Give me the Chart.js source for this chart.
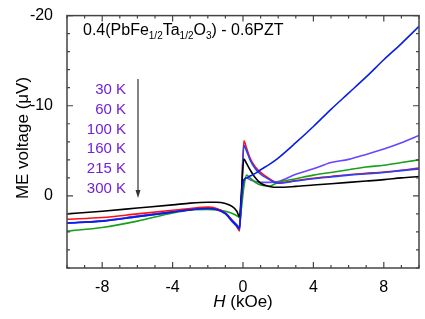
<!DOCTYPE html>
<html>
<head>
<meta charset="utf-8">
<script src="https://cdn.jsdelivr.net/npm/chart.js@4"></script>
<style>
  html, body { margin: 0; padding: 0; background: #fff; }
  #wrap { width: 425px; height: 319px; }
</style>
</head>
<body>
<div id="wrap"><canvas id="meChart" width="425" height="319"></canvas></div>
<script>
// field values (kOe), shared by all curves
const fieldH = [-10, -8, -6, -4, -3, -2, -1.5, -1, -0.6, -0.35, -0.2, -0.1, 0.05, 0.2, 0.4, 0.7, 1, 1.5, 2, 3, 4, 5, 6, 7, 8, 9, 10];

// ME voltage (uV) for each curve
const meBlack  = [2.0, 1.7, 1.35, 1.0, 0.8, 0.7, 0.7, 0.85, 1.2, 1.7, 2.3, 0.0, -4.1, -3.6, -2.9, -2.0, -1.4, -1.05, -0.95, -1.05, -1.2, -1.35, -1.5, -1.65, -1.8, -2.0, -2.15];
const meRed    = [2.6, 2.4, 2.0, 1.6, 1.4, 1.25, 1.4, 1.9, 2.8, 3.4, 3.9, 0.5, -6.1, -5.3, -4.2, -3.2, -2.6, -1.9, -1.45, -1.7, -1.95, -2.15, -2.35, -2.5, -2.65, -2.85, -3.1];
const meBlue   = [3.0, 2.8, 2.3, 1.8, 1.55, 1.4, 1.5, 2.0, 2.9, 3.4, 3.7, 0.8, -5.6, -5.0, -4.0, -3.0, -2.4, -1.8, -1.4, -1.65, -1.9, -2.1, -2.3, -2.45, -2.6, -2.8, -3.0];
const meGreen  = [3.9, 3.5, 2.8, 1.9, 1.55, 1.5, 1.55, 1.7, 1.95, 2.2, 2.4, 1.5, -1.0, -2.3, -2.0, -1.5, -1.2, -1.1, -1.5, -1.9, -2.3, -2.6, -2.9, -3.2, -3.4, -3.7, -4.0];
const mePurple = [3.0, 2.75, 2.25, 1.75, 1.5, 1.35, 1.45, 1.9, 2.7, 3.2, 3.5, 0.5, -1.5, -2.0, -1.8, -1.6, -1.5, -1.5, -1.6, -2.4, -3.0, -3.7, -4.05, -4.6, -5.2, -5.9, -6.7];
const meNavy   = [3.0, 2.8, 2.3, 1.8, 1.55, 1.4, 1.5, 1.95, 2.8, 3.3, 3.6, 0.5, -1.8, -2.0, -2.2, -2.5, -2.9, -3.5, -4.2, -5.9, -7.7, -9.6, -11.4, -13.2, -15.1, -16.9, -18.8];

// axis ticks
const xTicks = [-8, -4, 0, 4, 8];
const yTicks = [-20, -10, 0];
const tempLabels = ['30 K', '60 K', '100 K', '160 K', '215 K', '300 K'];

const FONT = '"Liberation Sans", Arial, sans-serif';

function pts(ys) {
    return fieldH.map((x, i) => ({ x: x, y: ys[i] }));
}

// inward ticks on all four sides, frame, titles and the temperature list
const decorPlugin = {
    id: 'decor',
    afterDraw(chart) {
        const ctx = chart.ctx;
        const a = chart.chartArea;
        const xs = chart.scales.x;
        const ys = chart.scales.y;
        ctx.save();

        ctx.strokeStyle = '#444';
        ctx.lineWidth = 1.5;
        ctx.strokeRect(a.left, a.top, a.right - a.left, a.bottom - a.top);

        ctx.lineWidth = 1.2;
        ctx.beginPath();
        for (let v = -10; v <= 10; v++) {
            const px = xs.getPixelForValue(v);
            const len = (v % 4 === 0) ? 6 : 3;
            ctx.moveTo(px, a.bottom); ctx.lineTo(px, a.bottom - len);
            ctx.moveTo(px, a.top); ctx.lineTo(px, a.top + len);
        }
        for (let v = -20; v <= 8; v += 2) {
            const py = ys.getPixelForValue(v);
            const len = (v % 10 === 0) ? 6 : 3;
            ctx.moveTo(a.left, py); ctx.lineTo(a.left + len, py);
            ctx.moveTo(a.right, py); ctx.lineTo(a.right - len, py);
        }
        ctx.stroke();

        // sample title with subscripts
        ctx.fillStyle = '#000';
        ctx.textBaseline = 'alphabetic';
        ctx.textAlign = 'left';
        const parts = [
            ['0.4(PbFe', 16, 0], ['1/2', 10, 4], ['Ta', 16, 0], ['1/2', 10, 4],
            ['O', 16, 0], ['3', 10, 4], [') - 0.6PZT', 16, 0]
        ];
        let tx = 83;
        parts.forEach(p => {
            ctx.font = p[1] + 'px ' + FONT;
            ctx.fillText(p[0], tx, 35 + p[2]);
            tx += ctx.measureText(p[0]).width;
        });

        // temperature list + arrow
        ctx.fillStyle = '#7022d8';
        ctx.font = '15px ' + FONT;
        ctx.textAlign = 'right';
        tempLabels.forEach((t, i) => {
            ctx.fillText(t, 126, 94 + i * 19.8);
        });
        ctx.strokeStyle = '#333';
        ctx.fillStyle = '#333';
        ctx.lineWidth = 1.2;
        ctx.beginPath();
        ctx.moveTo(138, 79); ctx.lineTo(138, 192);
        ctx.stroke();
        ctx.beginPath();
        ctx.moveTo(135.5, 190); ctx.lineTo(140.5, 190); ctx.lineTo(138, 198);
        ctx.closePath();
        ctx.fill();

        // x title
        ctx.fillStyle = '#000';
        ctx.textAlign = 'left';
        ctx.font = 'italic 17px ' + FONT;
        const hW = ctx.measureText('H').width;
        ctx.font = '17px ' + FONT;
        const restW = ctx.measureText(' (kOe)').width;
        let x0 = 243 - (hW + restW) / 2;
        ctx.font = 'italic 17px ' + FONT;
        ctx.fillText('H', x0, 307);
        ctx.font = '17px ' + FONT;
        ctx.fillText(' (kOe)', x0 + hW, 307);

        // y title
        ctx.translate(28, 138);
        ctx.rotate(-Math.PI / 2);
        ctx.textAlign = 'center';
        ctx.font = '17px ' + FONT;
        ctx.fillText('ME voltage (\u03BCV)', 0, 0);

        ctx.restore();
    }
};

const lineStyle = { pointRadius: 0, borderWidth: 1.6, fill: false, cubicInterpolationMode: 'monotone' };

new Chart(document.getElementById('meChart'), {
    type: 'line',
    data: {
        datasets: [
            { data: pts(meNavy), borderColor: '#0a1ee0', ...lineStyle },
            { data: pts(meBlack), borderColor: '#000000', ...lineStyle },
            { data: pts(meBlue), borderColor: '#2244ff', ...lineStyle },
            { data: pts(meRed), borderColor: '#ff1010', ...lineStyle },
            { data: pts(meGreen), borderColor: '#18a018', ...lineStyle },
            { data: pts(mePurple), borderColor: '#6a44ff', ...lineStyle }
        ]
    },
    options: {
        responsive: false,
        animation: false,
        layout: { padding: { top: 10, right: 6, left: 0, bottom: 0 } },
        plugins: { legend: { display: false }, tooltip: { enabled: false } },
        scales: {
            x: {
                type: 'linear', min: -10, max: 10,
                grid: { display: false },
                border: { display: false },
                afterBuildTicks: s => { s.ticks = xTicks.map(v => ({ value: v })); },
                afterFit: s => { s.height = 51; },
                ticks: { color: '#000', font: { family: FONT, size: 16 }, padding: 2 }
            },
            y: {
                type: 'linear', min: -20, max: 8, reverse: true,
                grid: { display: false },
                border: { display: false },
                afterBuildTicks: s => { s.ticks = yTicks.map(v => ({ value: v })); },
                afterFit: s => { s.width = 67; },
                ticks: { color: '#000', font: { family: FONT, size: 16 }, padding: 6 }
            }
        }
    },
    plugins: [decorPlugin]
});
</script>
</body>
</html>
